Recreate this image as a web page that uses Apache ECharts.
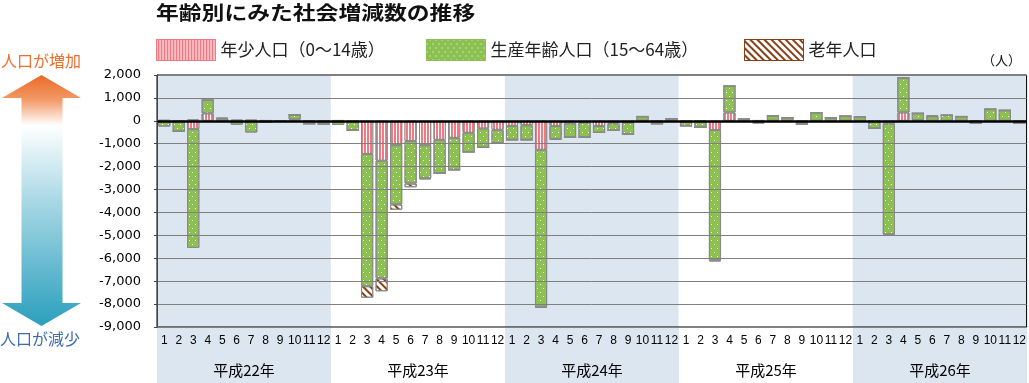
<!DOCTYPE html>
<html><head><meta charset="utf-8">
<script src="https://cdn.jsdelivr.net/npm/echarts@6/dist/echarts.min.js"></script>
<style>html,body{margin:0;padding:0;background:#fff}#c{width:1029px;height:383px}</style>
</head><body><div id="c"></div>
<script>
const years = ['平成22年','平成23年','平成24年','平成25年','平成26年'];
const months = ['1','2','3','4','5','6','7','8','9','10','11','12'];
const yTicks = [2000, 1000, 0, -1000, -2000, -3000, -4000, -5000, -6000, -7000, -8000, -9000];
const seriesNames = ['年少人口（0～14歳）','生産年齢人口（15～64歳）','老年人口'];

const young = [
  -20,-30,-360,320,0,-20,-30,30,0,60,20,-10,
  -40,-30,-1450,-1740,-1060,-880,-1060,-830,-740,-520,-330,-390,
  -220,-190,-1260,-220,-120,-70,-220,-110,-70,0,-30,0,
  -30,-30,-400,360,0,-20,-40,0,-30,0,0,0,
  0,-30,-120,360,30,0,0,0,20,0,0,-20
];
const working = [
  -230,-430,-5190,590,100,-150,-480,-50,0,210,-130,-130,
  -140,-380,-5770,-5140,-2590,-1860,-1450,-1460,-1400,-840,-830,-580,
  -610,-640,-6860,-580,-600,-650,-290,-310,-510,190,-100,90,
  -190,-260,-5690,1160,80,-100,220,140,-110,360,140,210,
  170,-300,-4840,1520,300,200,250,190,-100,510,460,-80
];
const elderly = [
  40,0,60,0,30,50,50,0,0,0,0,0,
  30,0,-500,-560,-230,-160,-40,0,0,0,0,0,
  0,0,-40,-30,0,0,0,0,0,0,0,0,
  0,0,-40,0,0,30,0,0,0,0,0,0,
  0,0,-40,0,0,30,0,0,0,0,0,0
];

const monthCats = [];
years.forEach((y, i) => months.forEach(m => monthCats.push(m)));

const chart = echarts.init(document.getElementById('c'));
const band = '#dce6f1';
const fmt = v => (v < 0 ? '-' : '') + Math.abs(v).toString().replace(/\B(?=(\d{3})+(?!\d))/g, ',');

const styles = [
  {color: '#f07a84', borderColor: '#8a8a8a', borderWidth: 1,
   decal: {symbol: 'rect', color: '#ffffff', dashArrayX: [1, 2], dashArrayY: [4, 0], symbolSize: 1}},
  {color: '#8cc152', borderColor: '#8a8a8a', borderWidth: 1,
   decal: {symbol: 'rect', color: '#ffffff', dashArrayX: [[1, 5], [0, 3, 1, 2]], dashArrayY: [1, 3], symbolSize: 1}},
  {color: '#ffffff', borderColor: '#8a8a8a', borderWidth: 1,
   decal: {symbol: 'rect', color: '#8b3f16', dashArrayX: [1, 0], dashArrayY: [2, 3], rotation: Math.PI / 4, symbolSize: 1}}
];
const legendBorders = ['#f07a84', '#8cc152', '#8b3f16'];
const dataSets = [young, working, elderly];

const series = seriesNames.map((n, i) => ({
  name: n, type: 'bar', stack: 'total', xAxisIndex: 0, yAxisIndex: 0,
  barCategoryGap: '16%', data: dataSets[i], itemStyle: styles[i],
  z: 3,
  markLine: i === 0 ? {silent: true, symbol: 'none', label: {show: false},
    lineStyle: {color: '#000', width: 2.5, type: 'solid'}, data: [{yAxis: 0}], z: 5} : undefined
}));

const legendLefts = [156, 426, 744];
const legendStyle = {fontSize: 17, color: '#222', fontFamily: '"Noto Sans CJK JP", sans-serif'};

chart.setOption({
  animation: false,
  aria: {enabled: false},
  textStyle: {fontFamily: '"Noto Sans CJK JP", "DejaVu Sans", sans-serif'},
  legend: seriesNames.map((n, i) => ({
    data: [{name: n, icon: 'rect', itemStyle: {borderColor: legendBorders[i], borderWidth: 1}}],
    left: legendLefts[i], top: 39, padding: 0, itemWidth: 59, itemHeight: 21,
    itemGap: 6, textStyle: legendStyle, selectedMode: false
  })),
  grid: [
    {left: 157, right: 2, top: 75, bottom: 56, show: true, borderColor: '#000', borderWidth: 1, backgroundColor: 'transparent', z: 2},
    {left: 157, right: 2, top: 327, bottom: 0, show: false}
  ],
  xAxis: [
    {type: 'category', gridIndex: 0, data: monthCats, position: 'bottom', z: 10,
     axisLine: {lineStyle: {color: '#000', width: 1}}, axisTick: {show: false},
     axisLabel: {interval: 0, color: '#000', fontSize: 12, margin: 8, fontFamily: '"Liberation Sans", Arial, sans-serif'}},
    {type: 'category', gridIndex: 0, data: years, position: 'top', z: 0,
     axisLine: {show: false}, axisTick: {show: false}, axisLabel: {show: false},
     splitArea: {show: true, areaStyle: {color: [band, '#ffffff']}}},
    {type: 'category', gridIndex: 1, data: years, position: 'top', z: 0,
     axisLine: {show: false}, axisTick: {show: false},
     axisLabel: {inside: true, margin: 36, color: '#000', fontSize: 15, fontFamily: '"Noto Sans CJK JP", sans-serif'},
     splitArea: {show: true, areaStyle: {color: [band, '#ffffff']}}}
  ],
  yAxis: [
    {type: 'value', gridIndex: 0, min: -9000, max: 2000, interval: 1000, z: 10,
     axisLine: {show: true, lineStyle: {color: '#444'}},
     axisTick: {show: true, length: 3, lineStyle: {color: '#444'}},
     axisLabel: {formatter: v => yTicks.indexOf(v) >= 0 ? fmt(v) : '', color: '#000', fontSize: 13, margin: 16, fontFamily: '"DejaVu Sans", sans-serif'},
     splitLine: {show: true, lineStyle: {color: '#808080', width: 1}}},
    {type: 'value', gridIndex: 1, show: false}
  ],
  series: series,
  graphic: [
    {type: 'text', x: 156, y: 3, scaleX: 1.2, z: 20,
     style: {text: '年齢別にみた社会増減数の推移', fontSize: 19, fontWeight: 'bold', fill: '#111',
       fontFamily: '"Noto Sans CJK JP", sans-serif', verticalAlign: 'top', textVerticalAlign: 'top'}},
    {type: 'text', x: 982, y: 54, z: 20,
     style: {text: '（人）', fontSize: 13, fill: '#111', fontFamily: '"Noto Sans CJK JP", sans-serif', verticalAlign: 'top', textVerticalAlign: 'top'}},
    {type: 'text', x: 1, y: 53, z: 20,
     style: {text: '人口が増加', fontSize: 16, fill: '#ec7030', fontFamily: '"Noto Sans CJK JP", sans-serif', verticalAlign: 'top', textVerticalAlign: 'top'}},
    {type: 'text', x: 0, y: 331, z: 20,
     style: {text: '人口が減少', fontSize: 16, fill: '#3d6db0', fontFamily: '"Noto Sans CJK JP", sans-serif', verticalAlign: 'top', textVerticalAlign: 'top'}},
    {type: 'polygon', z: 20,
     shape: {points: [[41.5,75],[81,98],[62.5,98],[62.5,303],[81,303],[41.5,326],[2,303],[21.5,303],[21.5,98],[2,98]]},
     style: {fill: {type: 'linear', x: 0, y: 0, x2: 0, y2: 1, colorStops: [
       {offset: 0, color: '#ea6a26'}, {offset: 0.1, color: '#f39a68'}, {offset: 0.2, color: '#ffffff'},
       {offset: 0.5, color: '#a9d8e5'}, {offset: 1, color: '#2a9fbd'}]}}}
  ]
});
</script></body></html>
